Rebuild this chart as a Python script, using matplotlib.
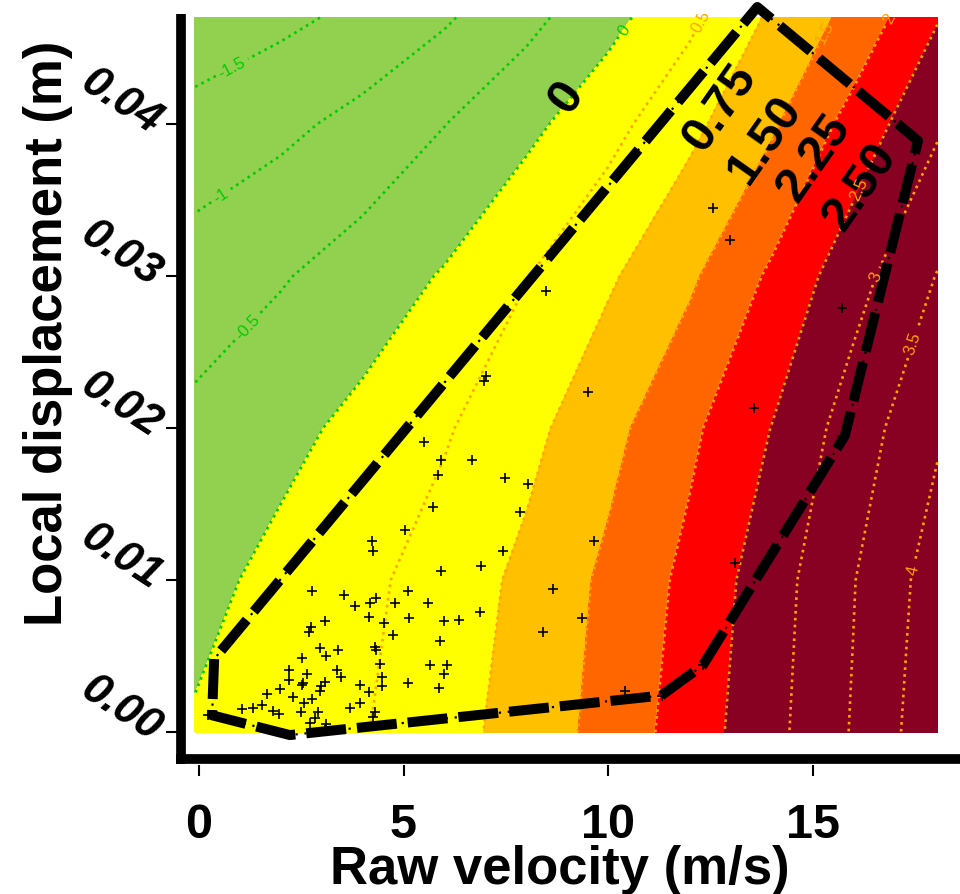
import matplotlib
matplotlib.use('Agg')
import matplotlib.pyplot as plt

plt.rcParams['font.family'] = ['Liberation Sans', 'DejaVu Sans']

# surface (velocity x displacement grid)
grid_x = [-0.1, 2, 4, 6, 8, 10, 12, 14, 16, 18.05]
grid_y = [0.0, 0.01, 0.02, 0.03, 0.04, 0.047]
grid_z = [
    [0.05, 0.24, 0.47, 0.81, 1.21, 1.67, 2.24, 2.85, 3.54, 4.35],
    [-0.15, 0.14, 0.39, 0.71, 1.12, 1.60, 2.13, 2.78, 3.48, 4.24],
    [-0.39, -0.14, 0.13, 0.45, 0.85, 1.35, 1.90, 2.51, 3.24, 3.93],
    [-0.76, -0.54, -0.27, 0.04, 0.48, 0.93, 1.42, 2.08, 2.81, 3.52],
    [-1.34, -1.12, -0.85, -0.51, -0.13, 0.33, 0.88, 1.43, 2.18, 2.93],
    [-1.80, -1.61, -1.38, -1.06, -0.64, -0.16, 0.39, 1.08, 1.65, 2.47],
]

fill_levels = [-2.5, 0, 1, 1.5, 2, 2.5, 5]
fill_colors = ['#92D050', '#FFFF00', '#FFC000', '#FF6600', '#FF0000', '#880022']

neg_levels = [-1.5, -1, -0.5, 0]
neg_lab_x = [0.83, 0.51, 1.12, 10.46]
neg_lab_y = [0.0436, 0.0354, 0.0268, 0.0461]

pos_levels = [0.5, 1, 1.5, 2, 2.5, 3, 3.5, 4]
pos_lab_x = [12.42, 15.3, 16.97, 16.16, 16.53, 17.33, 17.46]
pos_lab_y = [0.0466, 0.0461, 0.0470, 0.0357, 0.0300, 0.0257, 0.0107]

# observations
vel = [5.91, 2.76, 3.55, 3.81, 4.17, 4.33, 4.80, 5.12, 5.61, 4.16,
       5.13, 3.07, 2.75, 2.70, 4.53, 4.74, 5.98, 6.36, 5.89, 2.96,
       3.41, 3.10, 2.51, 4.31, 4.33, 4.43, 2.19, 2.63, 3.37, 3.46,
       2.21, 2.55, 2.53, 3.09, 2.98, 2.97, 4.47, 4.47, 3.93, 5.11,
       5.64, 6.06, 5.99, 5.86, 1.99, 1.66, 2.31, 2.77, 2.56, 4.16,
       3.93, 3.69, 1.54, 1.31, 1.04, 1.80, 1.96, 2.49, 2.90, 4.30,
       4.26, 2.84, 2.71, 3.10, 3.07, 0.22, 6.87, 7.02, 6.97, 9.50,
       5.50, 5.91, 6.67, 5.85, 7.49, 8.04, 5.72, 7.84, 5.04, 4.24,
       4.26, 7.43, 9.65, 6.89, 8.66, 9.37, 8.41, 8.48, 12.57, 12.98,
       13.58, 15.73, 13.11, 10.42, 11.31, 12.32, 17.55, 15.72]
disp = [0.0106, 0.0093, 0.0090, 0.0083, 0.0085, 0.0088, 0.0085, 0.0093, 0.0085, 0.0076,
        0.0075, 0.0073, 0.0069, 0.0066, 0.0072, 0.0064, 0.0073, 0.0074, 0.0060, 0.0055,
        0.0054, 0.0050, 0.0049, 0.0056, 0.0054, 0.0045, 0.0041, 0.0038, 0.0041, 0.0036,
        0.0034, 0.0032, 0.0031, 0.0033, 0.0030, 0.0027, 0.0036, 0.0030, 0.0031, 0.0032,
        0.0044, 0.0044, 0.0038, 0.0029, 0.0028, 0.0025, 0.0023, 0.0022, 0.0019, 0.0026,
        0.0019, 0.0016, 0.0018, 0.0016, 0.0015, 0.0014, 0.0012, 0.0013, 0.0013, 0.0013,
        0.0010, 0.0009, 0.0006, 0.0005, 0.0001, 0.0011, 0.0079, 0.0234, 0.0231, 0.0224,
        0.0191, 0.0179, 0.0179, 0.0169, 0.0167, 0.0163, 0.0148, 0.0145, 0.0133, 0.0126,
        0.0119, 0.0119, 0.0126, 0.0109, 0.0094, 0.0075, 0.0066, 0.0290, 0.0345, 0.0324,
        0.0213, 0.0279, 0.0111, 0.0027, 0.0024, 0.0044, 0.0390, 0.0195]

# hull of the observations
hull_x = [0.37, 0.32, 2.22, 11.30, 12.32, 15.79, 17.58, 13.65, 0.37]
hull_y = [0.0048, 0.0011, -0.0002, 0.0024, 0.0044, 0.0195, 0.0389, 0.0477, 0.0048]

zone_labels = ['0', '0.75', '1.50', '2.25', '2.50']
zone_x = [9.0, 12.74, 13.84, 15.04, 16.16]
zone_y = [0.0418, 0.0411, 0.0390, 0.0378, 0.0359]

fig = plt.figure(figsize=(9.6, 8.95), dpi=100)
ax = fig.add_axes([177 / 960, (895 - 766) / 895, (960 - 177) / 960, (766 - 15) / 895])

ax.contourf(grid_x, grid_y, grid_z, levels=fill_levels, colors=fill_colors)

fmt = lambda v: f'{v:g}'
dots = (0, (1, 1.6))
cs_neg = ax.contour(grid_x, grid_y, grid_z, levels=neg_levels, colors='#00CC00',
                    linestyles=[dots], linewidths=1.9)
ax.clabel(cs_neg, fmt=fmt, fontsize=12, manual=list(zip(neg_lab_x, neg_lab_y)))
cs_pos = ax.contour(grid_x, grid_y, grid_z, levels=pos_levels, colors='#FFA500',
                    linestyles=[dots], linewidths=1.9)
ax.clabel(cs_pos, fmt=fmt, fontsize=12, manual=list(zip(pos_lab_x, pos_lab_y)))

ax.plot(vel, disp, '+', color='k', ms=7.5, mew=1.2)

ax.plot(hull_x, hull_y, color='k', lw=7.2, dashes=(4.0, 1.1),
        solid_capstyle='butt', dash_capstyle='butt', clip_on=False)
ax.plot(hull_x, hull_y, color='k', lw=1.6, dashes=(1, 3), clip_on=False)

for lab, x, y in zip(zone_labels, zone_x, zone_y):
    ax.text(x, y, lab, fontsize=35, fontweight='bold', rotation=55,
            ha='center', va='center', rotation_mode='anchor')

ax.set_xlim(-0.538, 18.606)
ax.set_ylim(-0.00217, 0.04724)
for s in ax.spines.values():
    s.set_visible(False)

# heavy axis lines set slightly inside the tick base, R style
ax.plot([-0.44, -0.44], [-0.0021, 0.04724], color='k', lw=7, clip_on=False,
        solid_capstyle='butt')
ax.plot([-0.56, 18.7], [-0.00178, -0.00178], color='k', lw=7, clip_on=False,
        solid_capstyle='butt')

ax.set_xticks([0, 5, 10, 15])
ax.set_xticklabels(['0', '5', '10', '15'], fontsize=35, fontweight='bold')
ax.set_yticks([0, 0.01, 0.02, 0.03, 0.04])
ax.set_yticklabels(['0.00', '0.01', '0.02', '0.03', '0.04'], fontsize=32,
                   fontweight='bold', fontstyle='italic')
ax.tick_params(axis='x', length=8, width=1.5, pad=19)
ax.tick_params(axis='y', length=8, width=1.5, pad=6)
for t in ax.get_yticklabels():
    t.set_rotation(-33)
    t.set_rotation_mode('anchor')
    t.set_ha('right')
    t.set_va('center')

fig.text(560 / 960, 1 - 884 / 895, 'Raw velocity (m/s)', fontsize=38,
         fontweight='bold', ha='center', va='baseline')
fig.text(48 / 960, 1 - 333 / 895, 'Local displacement (m)', fontsize=38,
         fontweight='bold', ha='center', va='center', rotation=90)

fig.savefig('out.png', dpi=100)
